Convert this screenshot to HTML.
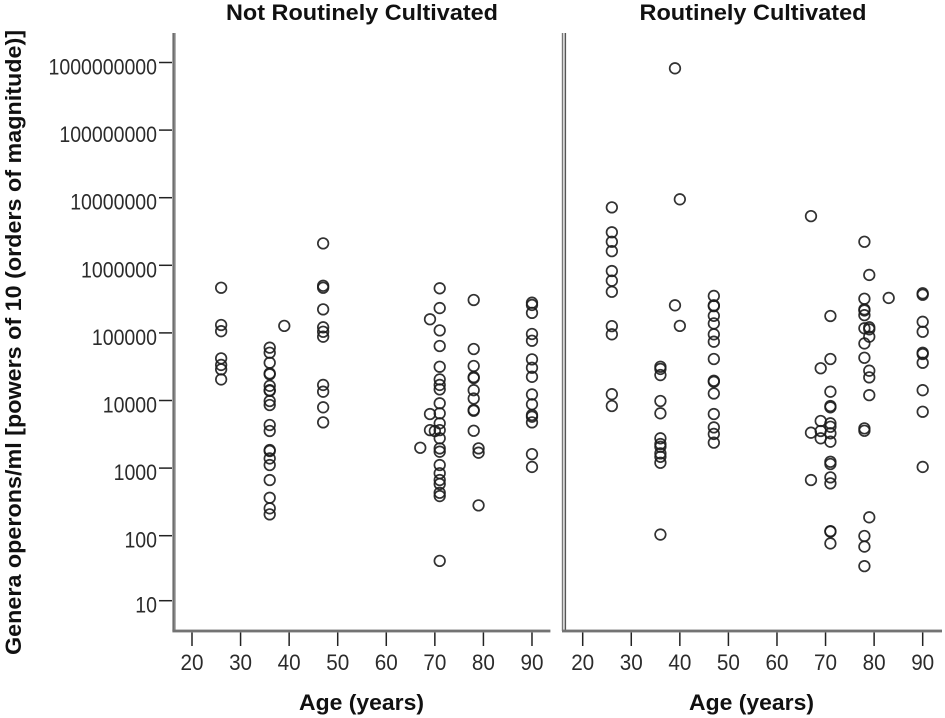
<!DOCTYPE html>
<html lang="en">
<head>
<meta charset="utf-8">
<title>Genera operons by age</title>
<style>
html,body{margin:0;padding:0;background:#fff;}
svg{display:block;font-family:"Liberation Sans",Arial,sans-serif;filter:blur(0.3px);}
.tick-label{font-size:22.5px;fill:#2b2b2b;}
.title{font-size:22.5px;font-weight:bold;fill:#111;text-anchor:middle;}
</style>
</head>
<body>
<svg id="chart" width="945" height="718" viewBox="0 0 945 718" xmlns="http://www.w3.org/2000/svg">
  <text class="title" x="362" y="20" textLength="272" lengthAdjust="spacingAndGlyphs">Not Routinely Cultivated</text>
  <text class="title" x="753" y="20" textLength="227" lengthAdjust="spacingAndGlyphs">Routinely Cultivated</text>
  <text class="title" transform="translate(21 342.5) rotate(-90)" textLength="625" lengthAdjust="spacingAndGlyphs">Genera operons/ml [powers of 10 (orders of magnitude)]</text>
  <text class="title" x="361.5" y="710" textLength="125" lengthAdjust="spacingAndGlyphs">Age (years)</text>
  <text class="title" x="751.5" y="710" textLength="125" lengthAdjust="spacingAndGlyphs">Age (years)</text>
  <g id="axes"></g>
  <g id="points"></g>
</svg>
<script>
const xTicks = [20, 30, 40, 50, 60, 70, 80, 90];
const yTicks = [1000000000, 100000000, 10000000, 1000000, 100000, 10000, 1000, 100, 10];

const notCultivatedAges = [26, 36, 39, 47, 67, 69, 70, 71, 78, 79, 90];
const notCultivatedValues = [
  [466000, 131000, 106000, 42000, 33600, 28900, 20500],
  [60500, 50900, 36200, 25200, 24400, 16500, 14200, 13900, 9830, 8580, 4340, 3540, 1850, 1790, 1390, 1110, 666, 364, 254, 207],
  [127000],
  [2110000, 498000, 466000, 223000, 121000, 104000, 87900, 17000, 13500, 7930, 4750],
  [2000],
  [159000, 6310, 3650],
  [3540],
  [457000, 233000, 109000, 64000, 31600, 20500, 17000, 14600, 9100, 6460, 4600, 3650, 2760, 1960, 1750, 1110, 840, 666, 582, 432, 386, 41],
  [307000, 57800, 32400, 22200, 21500, 14200, 10700, 7240, 7050, 3570],
  [1960, 1690, 281],
  [280000, 259000, 198000, 96300, 76600, 40600, 30500, 22400, 12300, 8790, 6100, 5760, 4750, 1610, 1040]
];

const cultivatedAges = [26, 36, 39, 40, 47, 67, 69, 71, 78, 79, 83, 90];
const cultivatedValues = [
  [7200000, 3080000, 2230000, 1620000, 823000, 592000, 406000, 126000, 95300, 12400, 8290],
  [31600, 29300, 23800, 9830, 6460, 2760, 2270, 2070, 1650, 1470, 1200, 104],
  [820000000, 256000],
  [9470000, 127000],
  [352000, 256000, 249000, 179000, 138000, 95300, 74100, 41100, 19600, 18900, 12700, 6310, 4000, 3200, 2380],
  [5340000, 3340, 666],
  [30000, 4980, 3540, 2760],
  [178000, 41100, 13500, 8290, 7930, 4600, 4090, 3270, 2460, 1240, 1150, 730, 595, 117, 115, 76],
  [2230000, 320000, 223000, 215000, 183000, 117000, 69800, 42900, 3870, 3570, 99, 68, 34],
  [720000, 121000, 113000, 87900, 27600, 22000, 12000, 187],
  [329000],
  [385000, 367000, 146000, 104000, 50900, 48700, 36200, 14200, 6820, 1040]
];

const NS = 'http://www.w3.org/2000/svg';
const axes = document.getElementById('axes');
const points = document.getElementById('points');

function yScale(v) {
  const l = Math.log10(v);
  return l >= 2 ? 535.7 - (l - 2) * 67.6 : 535.7 + (2 - l) * 65;
}
function xScale(origin, age) {
  return origin + (age - 20) * 4.857;
}
function make(tag, attrs, parent) {
  const el = document.createElementNS(NS, tag);
  for (const k in attrs) el.setAttribute(k, attrs[k]);
  parent.appendChild(el);
  return el;
}

// Left y axis: thick grey rule
const leftAxisLine = make('rect', {x: 172.4, y: 33, width: 3.2, height: 598, fill: '#6e6e6e'}, axes);


const leftAxisEdge = make('rect', {x: 174.6, y: 33, width: 1.2, height: 598, fill: '#a8a8a8'}, axes);



// Right panel: double rule
const rightAxisA = make('rect', {x: 561.8, y: 33, width: 1.5, height: 598, fill: '#777'}, axes);


const rightAxisB = make('rect', {x: 564.6, y: 33, width: 1.5, height: 598, fill: '#555'}, axes);



// X axis lines
const leftXAxis = make('rect', {x: 172.4, y: 629.6, width: 378, height: 2.8, fill: '#737373'}, axes);


const rightXAxis = make('rect', {x: 562, y: 629.6, width: 380, height: 2.8, fill: '#737373'}, axes);



// Y ticks
yTicks.forEach(function (t) {
  const y = yScale(t);
  const line = make('line', {x1: 159, x2: 172, y1: y, y2: y, stroke: '#222', 'stroke-width': 1.5}, axes);
  
  
  const label = make('text', {x: 157, y: y + 12, 'text-anchor': 'end', class: 'tick-label', textLength: String(t).length * 10.85, lengthAdjust: 'spacingAndGlyphs'}, axes);
  
  
  label.textContent = String(t);
});

// X ticks for both panels
[192, 582.7].forEach(function (origin) {
  xTicks.forEach(function (t) {
    const x = xScale(origin, t);
    const line = make('line', {x1: x, x2: x, y1: 632.5, y2: 646, stroke: '#222', 'stroke-width': 1.5}, axes);
    
    
    const label = make('text', {x: x, y: 670, 'text-anchor': 'middle', class: 'tick-label', textLength: 23, lengthAdjust: 'spacingAndGlyphs'}, axes);
    
    
    label.textContent = String(t);
  });
});

// Points
function drawSeries(origin, ages, values, name) {
  ages.forEach(function (age, i) {
    values[i].forEach(function (v) {
      const c = make('circle', {
        cx: xScale(origin, age),
        cy: yScale(v),
        r: 5.3,
        fill: 'none',
        stroke: '#1c1c1c',
        'stroke-width': 1.7,
        'stroke-opacity': 0.9
      }, points);
      
      
    });
  });
}
drawSeries(192, notCultivatedAges, notCultivatedValues, 'not-cultivated-point');
drawSeries(582.7, cultivatedAges, cultivatedValues, 'cultivated-point');
</script>
</body>
</html>
